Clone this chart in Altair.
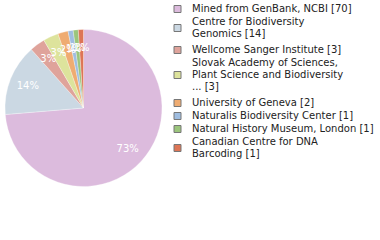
import altair as alt
import pandas as pd

names = [
    "Mined from GenBank, NCBI [70]",
    "Centre for Biodiversity\nGenomics [14]",
    "Wellcome Sanger Institute [3]",
    "Slovak Academy of Sciences,\nPlant Science and Biodiversity\n... [3]",
    "University of Geneva [2]",
    "Naturalis Biodiversity Center [1]",
    "Natural History Museum, London [1]",
    "Canadian Centre for DNA\nBarcoding [1]",
]
counts = [70, 14, 3, 3, 2, 1, 1, 1]
colors = ["#dcbbdd", "#cbd8e3", "#dfa39b", "#dde39c", "#efac72", "#9fbde0", "#9bc57c", "#dd7556"]

total = sum(counts)
df = pd.DataFrame({
    "name": names,
    "count": counts,
    "order": list(range(len(names))),
    "pct": [f"{int(c * 100 // total)}%" for c in counts],
})

# legend layout in "line" units (1 unit = one text line)
LINE_PX = 12
GAP_SINGLE = 1 / LINE_PX
GAP_MULTI = 4 / LINE_PX
line_rows, sym_rows = [], []
top = 0.0
for nm in names:
    parts = nm.split("\n")
    for k, p in enumerate(parts):
        line_rows.append({"text": p, "pos": top + k + 0.5})
    sym_rows.append({"name": nm, "pos": top + len(parts) / 2})
    top += len(parts) + (GAP_MULTI if len(parts) > 1 else GAP_SINGLE)
units = top
lines_df = pd.DataFrame(line_rows)
sym_df = pd.DataFrame(sym_rows)

color_scale = alt.Scale(domain=names, range=colors)
leg_y = alt.Scale(domain=[0, units], range=[3, 3 + units * LINE_PX], nice=False, zero=False)

cx, cy = 83.5, 108

base = alt.Chart(df).encode(
    theta=alt.Theta("count:Q", stack=True),
    order=alt.Order("order:Q"),
    x=alt.value(cx),
    y=alt.value(cy),
)

pie = base.mark_arc(outerRadius=78.5, stroke="white", strokeWidth=0.3).encode(
    color=alt.Color("name:N", scale=color_scale, legend=None)
)

labels = base.mark_text(radius=60, color="white", font="DejaVu Sans", fontSize=10).encode(
    text="pct:N"
)

leg_sym = alt.Chart(sym_df).mark_square(
    size=49, opacity=1, stroke="#777777", strokeWidth=1
).encode(
    x=alt.value(177.5),
    y=alt.Y("pos:Q", scale=leg_y, axis=None),
    color=alt.Color("name:N", scale=color_scale, legend=None),
)

leg_txt = alt.Chart(lines_df).mark_text(
    align="left", baseline="middle", font="DejaVu Sans", fontSize=10, color="#222222"
).encode(
    x=alt.value(192),
    y=alt.Y("pos:Q", scale=leg_y, axis=None),
    text="text:N",
)

chart = (
    alt.layer(pie, labels, leg_sym, leg_txt)
    .properties(width=380, height=240, padding=0,
                autosize=alt.AutoSizeParams(type="none"), background="white")
    .configure_view(stroke=None)
)

chart.save("out.html", embed_options={"renderer": "svg", "actions": False})
